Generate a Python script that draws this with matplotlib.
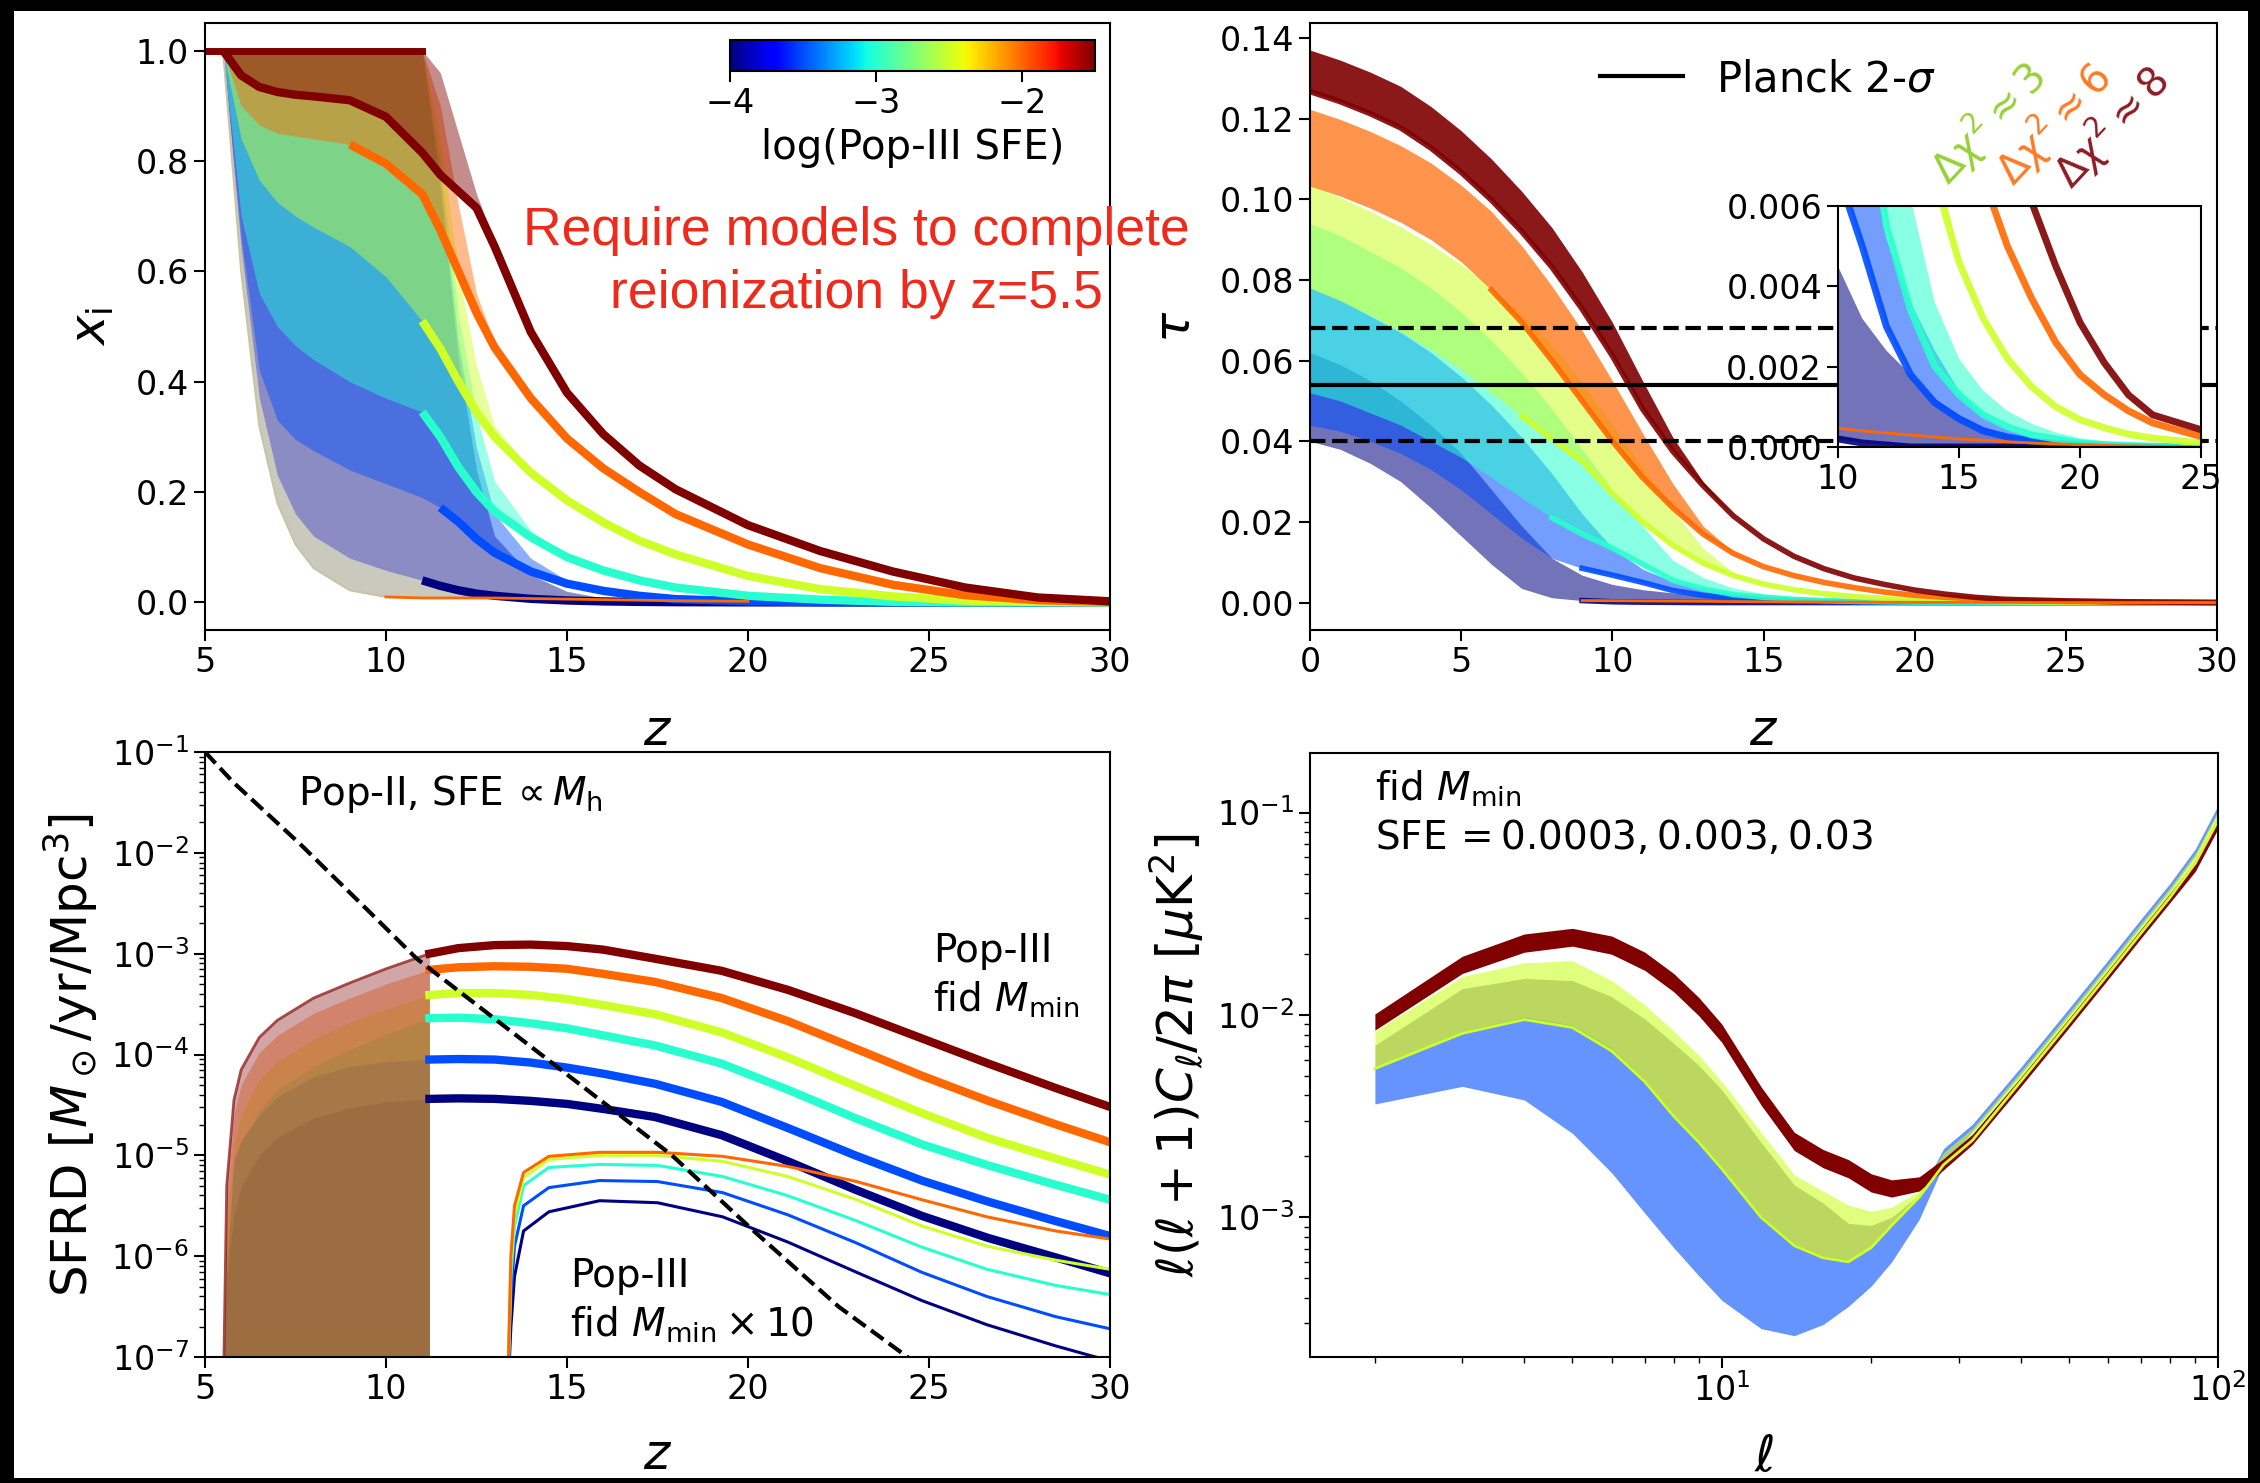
import numpy as np
import matplotlib
matplotlib.use('Agg')
import matplotlib.pyplot as plt
from matplotlib import cm
from matplotlib.colors import Normalize
from matplotlib.lines import Line2D

W, H = 2260, 1483

# ---------------- data ----------------
# log10 of Pop-III SFE for the six model families
sfe_log = [-4.0, -3.5, -3.0, -2.5, -2.0, -1.5]

# top left: ionized fraction, lower / upper envelope of each family
zi = [5.0, 5.5, 6.0, 6.5, 7.0, 7.5, 8.0, 9.0, 10.0, 11.0, 11.5, 12.0, 12.5,
      13.0, 14.0, 15.0, 16.0, 17.0, 18.0, 20.0, 22.0, 24.0, 26.0, 28.0, 30.0]
xi_edge = [1.0, 1.0, 0.60, 0.32, 0.18, 0.105, 0.062, 0.022, 0.010, 0.008, 0.008, 0.008, 0.008,
           0.008, 0.007, 0.006, 0.005, 0.004, 0.003, 0.002, 0.001, 0.0005, 0.0002, 0.0, 0.0]
xi_lo = [
    [1.0, 1.0, 0.64, 0.37, 0.23, 0.16, 0.12, 0.08, 0.058, 0.04, 0.03, 0.022, 0.016,
     0.012, 0.0065, 0.0035, 0.0018, 0.0009, 0.0004, 0.0001, 0.0, 0.0, 0.0, 0.0, 0.0],
    [1.0, 1.0, 0.66, 0.42, 0.33, 0.295, 0.275, 0.24, 0.215, 0.19, 0.172, 0.146, 0.115,
     0.09, 0.056, 0.034, 0.021, 0.012, 0.006, 0.002, 0.0005, 0.0, 0.0, 0.0, 0.0],
    [1.0, 1.0, 0.70, 0.56, 0.50, 0.465, 0.44, 0.40, 0.37, 0.345, 0.30, 0.245, 0.20,
     0.165, 0.118, 0.082, 0.058, 0.04, 0.027, 0.012, 0.005, 0.001, 0.0, 0.0, 0.0],
    [1.0, 1.0, 0.84, 0.765, 0.725, 0.70, 0.68, 0.645, 0.59, 0.51, 0.46, 0.40, 0.345,
     0.30, 0.235, 0.185, 0.145, 0.112, 0.087, 0.048, 0.024, 0.011, 0.003, 0.001, 0.0],
    [1.0, 1.0, 0.90, 0.865, 0.85, 0.845, 0.84, 0.83, 0.795, 0.74, 0.675, 0.60, 0.525,
     0.462, 0.37, 0.297, 0.243, 0.20, 0.16, 0.105, 0.062, 0.032, 0.013, 0.004, 0.001],
    [1.0, 1.0, 0.955, 0.934, 0.925, 0.92, 0.917, 0.91, 0.88, 0.815, 0.775, 0.745, 0.715,
     0.645, 0.49, 0.38, 0.305, 0.248, 0.205, 0.14, 0.093, 0.056, 0.027, 0.009, 0.002],
]
xi_hi = [
    [1.0, 1.0, 1.0, 1.0, 1.0, 1.0, 1.0, 1.0, 1.0, 1.0, 0.75, 0.44, 0.24,
     0.12, 0.05, 0.02, 0.008, 0.003, 0.001, 0.0001, 0.0, 0.0, 0.0, 0.0, 0.0],
    [1.0, 1.0, 1.0, 1.0, 1.0, 1.0, 1.0, 1.0, 1.0, 1.0, 0.77, 0.47, 0.28,
     0.16, 0.08, 0.04, 0.024, 0.013, 0.007, 0.002, 0.0005, 0.0, 0.0, 0.0, 0.0],
    [1.0, 1.0, 1.0, 1.0, 1.0, 1.0, 1.0, 1.0, 1.0, 1.0, 0.80, 0.52, 0.34,
     0.22, 0.13, 0.085, 0.06, 0.041, 0.028, 0.012, 0.005, 0.001, 0.0, 0.0, 0.0],
    [1.0, 1.0, 1.0, 1.0, 1.0, 1.0, 1.0, 1.0, 1.0, 1.0, 0.84, 0.60, 0.43,
     0.32, 0.24, 0.187, 0.146, 0.113, 0.088, 0.048, 0.024, 0.011, 0.003, 0.001, 0.0],
    [1.0, 1.0, 1.0, 1.0, 1.0, 1.0, 1.0, 1.0, 1.0, 1.0, 0.90, 0.72, 0.56,
     0.47, 0.375, 0.298, 0.243, 0.20, 0.16, 0.105, 0.062, 0.032, 0.013, 0.004, 0.001],
    [1.0, 1.0, 1.0, 1.0, 1.0, 1.0, 1.0, 1.0, 1.0, 1.0, 0.96, 0.85, 0.74,
     0.655, 0.49, 0.38, 0.305, 0.248, 0.205, 0.14, 0.093, 0.056, 0.027, 0.009, 0.002],
]

# top right: optical depth, lower / upper envelope of each family
zt = [0, 1, 2, 3, 4, 5, 6, 7, 8, 9, 10, 11, 12, 13, 14, 15, 16, 17, 18, 19, 20,
      21, 22, 23, 25, 27, 30]
tau_hi = [
    [0.062, 0.059, 0.055, 0.050, 0.044, 0.037, 0.028, 0.019, 0.011, 0.0068, 0.0045,
     0.0032, 0.0024, 0.0018, 0.0012, 0.0008, 0.0005, 0.0003, 0.0002, 0.00012, 0.00008,
     0.00005, 0.00003, 0.00002, 0.0, 0.0, 0.0],
    [0.078, 0.075, 0.071, 0.067, 0.062, 0.056, 0.049, 0.041, 0.032, 0.022, 0.0135,
     0.0083, 0.0052, 0.0036, 0.0024, 0.0014, 0.0008, 0.00045, 0.00025, 0.00015, 0.00008,
     0.00005, 0.00002, 0.00001, 0.0, 0.0, 0.0],
    [0.094, 0.091, 0.087, 0.083, 0.078, 0.072, 0.065, 0.057, 0.048, 0.038, 0.028,
     0.019, 0.0105, 0.0062, 0.0036, 0.0022, 0.0014, 0.0009, 0.00058, 0.00036, 0.00022,
     0.00014, 0.00009, 0.00006, 0.00003, 0.00001, 0.0],
    [0.1038, 0.1005, 0.097, 0.0932, 0.0888, 0.0839, 0.078, 0.0715, 0.064, 0.0545, 0.044,
     0.0335, 0.023, 0.0135, 0.0075, 0.0047, 0.0032, 0.0022, 0.0015, 0.001, 0.00068,
     0.00048, 0.00032, 0.00022, 0.0001, 0.00004, 0.0],
    [0.1223, 0.1198, 0.1168, 0.1133, 0.109, 0.1035, 0.097, 0.0885, 0.0785, 0.0675, 0.055,
     0.042, 0.0295, 0.019, 0.0125, 0.0089, 0.0067, 0.005, 0.0037, 0.0026, 0.0018,
     0.0013, 0.0009, 0.0006, 0.00026, 0.0001, 0.0],
    [0.137, 0.1345, 0.1315, 0.128, 0.123, 0.117, 0.110, 0.102, 0.093, 0.082, 0.0695,
     0.055, 0.041, 0.030, 0.0215, 0.0158, 0.0115, 0.0084, 0.0061, 0.0045, 0.0031,
     0.0021, 0.0013, 0.0008, 0.00043, 0.0002, 0.0],
]
tau_lo = [
    [0.040, 0.038, 0.0345, 0.030, 0.0235, 0.0165, 0.0095, 0.0035, 0.0012, 0.0005, 0.0002,
     0.0001, 0.00005, 0.0, 0.0, 0.0, 0.0, 0.0, 0.0, 0.0, 0.0,
     0.0, 0.0, 0.0, 0.0, 0.0, 0.0],
    [0.044, 0.0425, 0.040, 0.037, 0.033, 0.028, 0.022, 0.016, 0.011, 0.0085, 0.0068,
     0.0050, 0.0030, 0.0018, 0.0011, 0.0007, 0.0004, 0.00025, 0.00015, 0.0001, 0.00005,
     0.00003, 0.00001, 0.0, 0.0, 0.0, 0.0],
    [0.052, 0.050, 0.047, 0.044, 0.040, 0.036, 0.031, 0.026, 0.021, 0.017, 0.0135,
     0.0095, 0.0055, 0.0034, 0.002, 0.0013, 0.0008, 0.0005, 0.0003, 0.0002, 0.0001,
     0.00006, 0.00004, 0.00002, 0.00001, 0.0, 0.0],
    [0.078, 0.0748, 0.0712, 0.0672, 0.0627, 0.0577, 0.052, 0.0462, 0.0405, 0.035, 0.027,
     0.020, 0.0142, 0.0098, 0.0067, 0.0046, 0.0032, 0.0022, 0.0015, 0.001, 0.00068,
     0.00048, 0.00032, 0.00022, 0.0001, 0.00004, 0.0],
    [0.1033, 0.1008, 0.0978, 0.0943, 0.0900, 0.0845, 0.0775, 0.0695, 0.0600, 0.0500, 0.0400,
     0.0310, 0.0235, 0.0170, 0.0122, 0.0089, 0.0067, 0.005, 0.0037, 0.0026, 0.0018,
     0.0013, 0.0009, 0.0006, 0.00026, 0.0001, 0.0],
    [0.1267, 0.1242, 0.1212, 0.1177, 0.1127, 0.1067, 0.0998, 0.0920, 0.0832, 0.0728, 0.0612,
     0.0480, 0.0375, 0.0290, 0.0215, 0.0158, 0.0115, 0.0084, 0.0061, 0.0045, 0.0031,
     0.0021, 0.0013, 0.0008, 0.00043, 0.0002, 0.0],
]
tau_x10 = [0.0006, 0.0006, 0.0006, 0.0006, 0.0006, 0.0006, 0.0006, 0.0006, 0.0006, 0.0005,
           0.00047, 0.0004, 0.00035, 0.0003, 0.00025, 0.0002, 0.00017, 0.00013, 0.0001,
           0.00008, 0.00006, 0.00004, 0.00003, 0.00002, 0.0, 0.0, 0.0]
planck_tau = [0.040, 0.054, 0.068]

# bottom left: log10 SFRD of Pop-III (fiducial M_min), one curve per family
zs = [5.5, 5.6, 5.8, 6.0, 6.5, 7.0, 8.0, 9.0, 10.0, 11.2, 12.0, 13.0, 14.0, 15.0,
      16.0, 17.43, 19.27, 21.11, 22.96, 24.8, 26.64, 28.48, 30.0]
sfrd_log = [
    [-7.5, -6.20, -5.60, -5.30, -5.00, -4.82, -4.63, -4.53, -4.47, -4.44, -4.435, -4.44,
     -4.46, -4.49, -4.54, -4.62, -4.80, -5.06, -5.34, -5.60, -5.82, -6.01, -6.17],
    [-7.5, -6.10, -5.05, -4.85, -4.60, -4.42, -4.22, -4.12, -4.07, -4.05, -4.045, -4.05,
     -4.08, -4.13, -4.19, -4.29, -4.47, -4.73, -5.00, -5.25, -5.46, -5.65, -5.80],
    [-7.5, -6.00, -5.20, -4.90, -4.55, -4.35, -4.12, -3.95, -3.80, -3.64, -3.635, -3.65,
     -3.69, -3.74, -3.81, -3.91, -4.09, -4.35, -4.63, -4.89, -5.10, -5.29, -5.44],
    [-7.5, -5.70, -4.90, -4.60, -4.25, -4.07, -3.85, -3.68, -3.55, -3.41, -3.39, -3.39,
     -3.41, -3.45, -3.51, -3.60, -3.78, -4.03, -4.31, -4.58, -4.83, -5.03, -5.19],
    [-7.5, -5.45, -4.60, -4.30, -3.98, -3.81, -3.59, -3.44, -3.30, -3.16, -3.135, -3.125,
     -3.13, -3.15, -3.20, -3.28, -3.44, -3.67, -3.94, -4.21, -4.46, -4.69, -4.87],
    [-7.5, -5.30, -4.45, -4.15, -3.83, -3.66, -3.44, -3.29, -3.15, -3.00, -2.945, -2.915,
     -2.91, -2.925, -2.96, -3.05, -3.17, -3.36, -3.59, -3.84, -4.09, -4.33, -4.52],
]
# Pop-III with M_min x 10 (families 0..4)
zx = [13.35, 13.45, 13.55, 13.8, 14.5, 15.9, 17.5, 19.3, 21.1, 23.0, 24.8, 26.6, 28.5, 30.0]
sfrd_x10_log = [
    [-7.5, -6.7, -6.2, -5.75, -5.56, -5.45, -5.47, -5.61, -5.86, -6.16, -6.44, -6.68, -6.89, -7.04],
    [-7.5, -6.4, -5.9, -5.50, -5.32, -5.25, -5.26, -5.37, -5.59, -5.87, -6.16, -6.40, -6.60, -6.72],
    [-7.5, -6.2, -5.7, -5.30, -5.12, -5.09, -5.10, -5.21, -5.40, -5.65, -5.91, -6.13, -6.29, -6.38],
    [-7.5, -6.1, -5.6, -5.22, -5.04, -5.00, -5.00, -5.06, -5.21, -5.44, -5.70, -5.90, -6.04, -6.13],
    [-7.5, -6.0, -5.5, -5.17, -5.01, -4.97, -4.97, -5.01, -5.11, -5.26, -5.44, -5.61, -5.75, -5.83],
]
# Pop-II
z_pop2 = [5.0, 5.78, 7.62, 9.47, 10.85, 17.9, 20.19, 22.5, 24.52]
sfrd_pop2_log = [-1.0, -1.30, -1.91, -2.56, -3.05, -5.0, -5.76, -6.50, -7.03]

# bottom right: log10 of l(l+1)C_l/2pi, bands for SFE = 0.0003, 0.003, 0.03
ell = [2, 3, 4, 5, 6, 7, 8, 9, 10, 12, 14, 16, 18, 20, 22, 25, 28, 32, 40, 50, 60, 70, 80, 90, 100]
cl_bl_hi = [-2.255, -2.08, -2.01, -2.05, -2.165, -2.32, -2.49, -2.62, -2.75, -2.99, -3.13, -3.19,
            -3.21, -3.14, -3.03, -2.89, -2.66, -2.54, -2.26, -1.97, -1.73, -1.525, -1.35, -1.18, -0.965]
cl_bl_lo = [-2.44, -2.353, -2.42, -2.585, -2.78, -2.98, -3.15, -3.29, -3.41, -3.55, -3.585, -3.53,
            -3.44, -3.34, -3.22, -3.01, -2.74, -2.575, -2.295, -2.005, -1.765, -1.56, -1.385, -1.215, -1.00]
cl_yg_hi = [-2.08, -1.81, -1.742, -1.732, -1.83, -1.95, -2.08, -2.20, -2.33, -2.58, -2.79, -2.87,
            -2.94, -2.97, -2.95, -2.87, -2.68, -2.56, -2.28, -1.99, -1.75, -1.545, -1.37, -1.20, -0.99]
cl_yg_core = [-2.15, -1.87, -1.82, -1.83, -1.91, -2.02, -2.14, -2.25, -2.37, -2.63, -2.84, -2.93,
              -3.03, -3.04, -3.00, -2.89, -2.74, -2.62, -2.33, -2.04, -1.80, -1.595, -1.42, -1.25, -1.04]
cl_yg_lo = [-2.265, -2.091, -2.023, -2.062, -2.178, -2.33, -2.50, -2.63, -2.76, -3.00, -3.14, -3.20,
            -3.22, -3.15, -3.04, -2.90, -2.74, -2.62, -2.33, -2.04, -1.80, -1.595, -1.42, -1.25, -1.04]
cl_dr_hi = [-1.995, -1.71, -1.60, -1.572, -1.61, -1.69, -1.795, -1.915, -2.045, -2.355, -2.58, -2.665,
            -2.715, -2.785, -2.815, -2.80, -2.71, -2.59, -2.31, -2.02, -1.78, -1.575, -1.40, -1.24, -1.03]
cl_dr_lo = [-2.075, -1.795, -1.69, -1.66, -1.70, -1.78, -1.885, -2.005, -2.135, -2.445, -2.67, -2.755,
            -2.805, -2.875, -2.90, -2.87, -2.765, -2.64, -2.355, -2.065, -1.825, -1.62, -1.445, -1.29, -1.08]

# ---------------- figure ----------------
norm = Normalize(-4, -1.5)
cols = [cm.jet(norm(v)) for v in sfe_log]

fig = plt.figure(figsize=(W / 100, H / 100), dpi=100, facecolor='black')
fig.patches.append(plt.Rectangle((14 / W, 1 - 1478 / H), (2248 - 14) / W, (1478 - 11) / H,
                                 transform=fig.transFigure, facecolor='white', edgecolor='none',
                                 zorder=-10))

def ax_at(x0, y0, x1, y1):
    return fig.add_axes([x0 / W, 1 - y1 / H, (x1 - x0) / W, (y1 - y0) / H])

def style(ax, fs=24):
    ax.tick_params(which='major', labelsize=fs, length=8, width=1.5)
    ax.tick_params(which='minor', length=4, width=1.0)
    for s in ax.spines.values():
        s.set_linewidth(1.5)

# ---- top left
ax1 = ax_at(205, 23, 1110, 630)
zi_a = np.array(zi)
ax1.fill_between(zi, xi_edge, xi_lo[0], color='#a8a592', alpha=0.6, lw=0)
ax1.plot(zi, xi_edge, color='#c8c4a8', lw=1.5)
line_start_xi = [11.0, 11.5, 11.0, 11.0, 9.0, 5.5]
for k in range(6):
    ax1.fill_between(zi, xi_lo[k], xi_hi[k], color=cols[k], alpha=0.45, lw=0)
    m = zi_a >= line_start_xi[k]
    ax1.plot(zi_a[m], np.array(xi_lo[k])[m], color=cols[k], lw=6, solid_capstyle='butt')
ax1.plot(zi_a[zi_a <= 11.0], np.array(xi_hi[5])[zi_a <= 11.0], color=cols[5], lw=5)
ax1.plot(zi[8:20], xi_edge[8:20], color=cols[4], lw=2)
ax1.set_xlim(5, 30)
ax1.set_ylim(-0.05, 1.05)
ax1.set_xticks([5, 10, 15, 20, 25, 30])
ax1.set_yticks([0.0, 0.2, 0.4, 0.6, 0.8, 1.0])
ax1.set_xlabel('$z$', fontsize=36, labelpad=20)
ax1.set_ylabel(r'$x_{\rm i}$', fontsize=36, labelpad=14)
style(ax1)

cax = ax_at(730, 40, 1095, 71)
sm = cm.ScalarMappable(norm=norm, cmap='jet')
cb = fig.colorbar(sm, cax=cax, orientation='horizontal', ticks=[-4, -3, -2])
cb.ax.tick_params(labelsize=24, length=8, width=1.5)
cb.set_label('log(Pop-III SFE)', fontsize=29, labelpad=6)
cb.outline.set_linewidth(1.5)

for line, yc in [('Require models to complete', 231), ('reionization by z=5.5', 294)]:
    fig.text(856 / W, 1 - yc / H, line, ha='center', va='center', color='#ee2a1c',
             fontsize=38.5, family='Liberation Sans')

# ---- top right
line_start_tau = [9, 9, 8, 7, 6, 0]
def draw_tau(ax, lw, zmin):
    zt_a = np.array(zt)
    for k in range(6):
        ax.fill_between(zt, tau_lo[k], tau_hi[k], color=cols[k],
                        alpha=0.9 if k == 5 else (0.7 if k == 4 else 0.55), lw=0)
        m = zt_a >= min(line_start_tau[k], zmin)
        ax.plot(zt_a[m], np.array(tau_lo[k])[m], color=cols[k], lw=lw, alpha=0.9)
    m = zt_a >= 9
    ax.plot(zt_a[m], np.array(tau_x10)[m], color=cols[4], lw=2)

ax2 = ax_at(1310, 23, 2217, 630)
draw_tau(ax2, 4, 30)
for v, ls in zip(planck_tau, ['--', '-', '--']):
    ax2.axhline(v, color='k', lw=3, ls=ls)
ax2.set_xlim(0, 30)
ax2.set_ylim(-0.0068, 0.1437)
ax2.set_xlabel('$z$', fontsize=36, labelpad=20)
ax2.set_ylabel(r'$\tau$', fontsize=36, labelpad=14)
style(ax2)
leg = ax2.legend(handles=[Line2D([], [], color='k', lw=3)], labels=[r'Planck 2-$\sigma$'],
                 frameon=False, fontsize=30, handlelength=2.0,
                 loc='center left', bbox_to_anchor=(1562 / W, 1 - 79 / H),
                 bbox_transform=fig.transFigure)

for txt, c, (x, y) in [(r'$\Delta\chi^2\approx3$', '#98d038', (1988, 124)),
                       (r'$\Delta\chi^2\approx6$', '#ff7a24', (2054, 124)),
                       (r'$\Delta\chi^2\approx8$', '#8c1c24', (2112, 127))]:
    fig.text(x / W, 1 - y / H, txt, color=c, fontsize=29, rotation=47,
             ha='center', va='center', rotation_mode='anchor')

axi = ax_at(1838, 206, 2201, 447)
draw_tau(axi, 5, 10)
axi.set_xlim(10, 25)
axi.set_ylim(0, 0.006)
axi.set_xticks([10, 15, 20, 25])
axi.set_yticks([0.0, 0.002, 0.004, 0.006])
axi.set_yticklabels(['0.000', '0.002', '0.004', '0.006'])
style(axi)

# ---- bottom left
ax3 = ax_at(205, 752, 1110, 1357)
zs_a = np.array(zs)
cut = zs_a <= 11.2
for k in range(6):
    y = 10 ** np.array(sfrd_log[k])
    ax3.fill_between(zs_a[cut], 1e-9, y[cut], color=cols[k], alpha=0.35, lw=0)
    ax3.plot(zs_a[zs_a >= 11.2], y[zs_a >= 11.2], color=cols[k], lw=6)
y5 = 10 ** np.array(sfrd_log[5])
ax3.plot(zs_a[cut], y5[cut], color=cols[5], lw=2, alpha=0.7)
for k in range(5):
    ax3.plot(zx, 10 ** np.array(sfrd_x10_log[k]), color=cols[k], lw=2.2)
ax3.plot(z_pop2, 10 ** np.array(sfrd_pop2_log), color='k', lw=3, ls='--')
ax3.set_yscale('log')
ax3.set_xlim(5, 30)
ax3.set_ylim(1e-7, 1e-1)
ax3.set_xticks([5, 10, 15, 20, 25, 30])
ax3.set_xlabel('$z$', fontsize=36, labelpad=18)
ax3.set_ylabel(r'SFRD [$M_\odot$/yr/Mpc$^3$]', fontsize=36, labelpad=8)
style(ax3)
fig.text(298 / W, 1 - 794 / H, r'Pop-II, SFE$\,\propto M_{\rm h}$', fontsize=28, va='center')
fig.text(933 / W, 1 - 976 / H, 'Pop-III\nfid $M_{\\rm min}$', fontsize=28, va='center',
         linespacing=1.3)
fig.text(570 / W, 1 - 1301 / H, 'Pop-III\nfid $M_{\\rm min}\\times10$', fontsize=28, va='center',
         linespacing=1.3)

# ---- bottom right
ax4 = ax_at(1310, 753, 2218, 1357)
ax4.fill_between(ell, 10 ** np.array(cl_bl_lo), 10 ** np.array(cl_bl_hi), color=cols[1], alpha=0.6, lw=0)
ax4.fill_between(ell, 10 ** np.array(cl_yg_lo), 10 ** np.array(cl_yg_hi), color=cols[3], alpha=0.6, lw=0)
ax4.fill_between(ell, 10 ** np.array(cl_yg_lo), 10 ** np.array(cl_yg_core), color='#8fa83a', alpha=0.45, lw=0)
ax4.plot(ell, 10 ** np.array(cl_yg_lo), color=cols[3], lw=2)
ax4.fill_between(ell, 10 ** np.array(cl_dr_lo), 10 ** np.array(cl_dr_hi), color=cols[5], alpha=1.0, lw=0)
ax4.set_xscale('log')
ax4.set_yscale('log')
ax4.set_xlim(1.48, 100)
ax4.set_ylim(2.04e-4, 0.197)
ax4.set_xlabel(r'$\ell$', fontsize=36, labelpad=18)
ax4.set_ylabel(r'$\ell(\ell+1)C_\ell/2\pi\ [\mu{\rm K}^2]$', fontsize=36, labelpad=8)
style(ax4)
fig.text(1375 / W, 1 - 813 / H, 'fid $M_{\\rm min}$\nSFE$\\,=0.0003, 0.003, 0.03$', fontsize=28,
         va='center', linespacing=1.3)

fig.savefig('out.png', dpi=100, facecolor=fig.get_facecolor())
